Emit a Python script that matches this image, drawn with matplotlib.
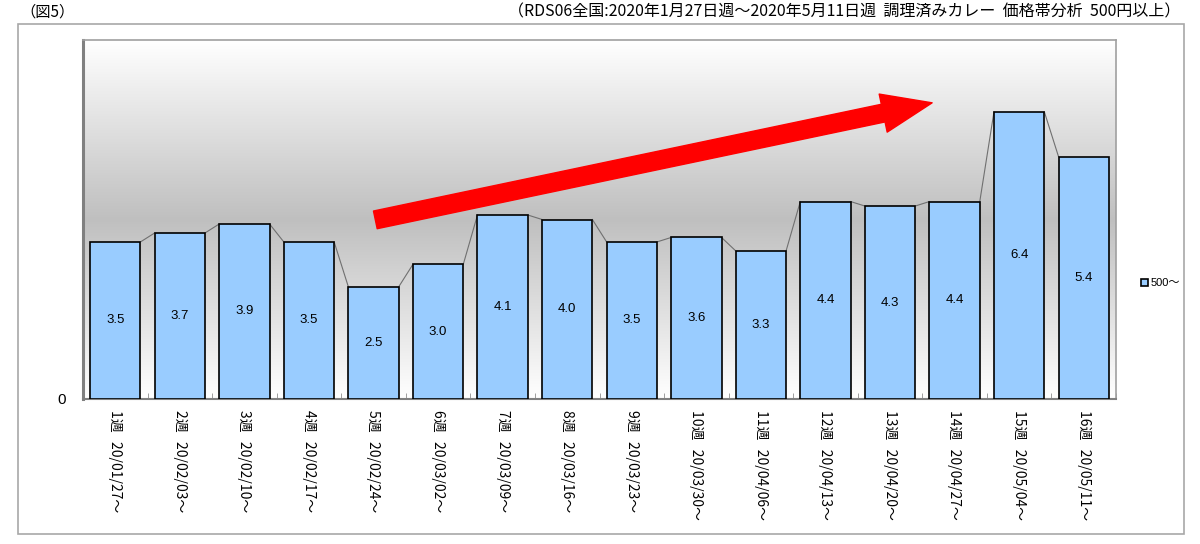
import matplotlib
matplotlib.use("Agg")
import matplotlib.pyplot as plt
from matplotlib.patches import Rectangle
import numpy as np

plt.rcParams['font.family'] = ['Noto Sans CJK JP', 'DejaVu Sans']

weeks = ["1週", "2週", "3週", "4週", "5週", "6週", "7週", "8週",
         "9週", "10週", "11週", "12週", "13週", "14週", "15週", "16週"]
dates = ["20/01/27～", "20/02/03～", "20/02/10～", "20/02/17～", "20/02/24～",
         "20/03/02～", "20/03/09～", "20/03/16～", "20/03/23～", "20/03/30～",
         "20/04/06～", "20/04/13～", "20/04/20～", "20/04/27～", "20/05/04～",
         "20/05/11～"]
values = [3.5, 3.7, 3.9, 3.5, 2.5, 3.0, 4.1, 4.0, 3.5, 3.6, 3.3, 4.4, 4.3, 4.4, 6.4, 5.4]
series_name = "500～"

fig = plt.figure(figsize=(12, 5.44), dpi=100)
ax = fig.add_axes([83/1200, 1-399/544, 1033/1200, 359/544])

# outer chart frame
fig.patches.append(Rectangle((18/1200, 1-534/544), 1166/1200, 510/544,
                             transform=fig.transFigure, fill=False,
                             edgecolor="#a8a8a8", lw=1.2))

# gradient background (white - gray - white)
t = np.linspace(0, 1, 256)
shade = 1 - (1 - np.abs(2*t - 1)) * (1 - 0.75)
grad = np.dstack([shade, shade, shade]).reshape(256, 1, 3)
ax.imshow(grad, extent=[0, 1, 0, 1], transform=ax.transAxes, aspect="auto",
          zorder=0, interpolation="bilinear")

x = np.arange(len(values))
w = 0.78
ax.bar(x, values, width=w, color="#99ccff", edgecolor="black", lw=1.2,
       zorder=3, label=series_name)

# series lines between bar tops
for i in range(len(values) - 1):
    ax.plot([x[i] + w/2, x[i+1] - w/2], [values[i], values[i+1]],
            color="#707070", lw=0.8, zorder=2)

for xi, v in zip(x, values):
    ax.text(xi, v/2, f"{v:.1f}", ha="center", va="center", fontsize=9.5,
            family="Liberation Sans", zorder=4)

ax.set_xlim(-0.5, len(values) - 0.5)
ax.set_ylim(0, 8)
ax.set_yticks([0])
ax.set_yticklabels(["0"], fontsize=11, family="Liberation Sans")
ax.tick_params(axis="y", length=0, pad=12)

ax.set_xticks(x)
ax.set_xticklabels([f"{a}   {b}" for a, b in zip(weeks, dates)],
                   rotation=-90, fontsize=10, va="top", ha="center")
ax.tick_params(axis="x", length=0, pad=8)
ax.set_xticks(np.arange(len(values) + 1) - 0.5, minor=True)
ax.tick_params(axis="x", which="minor", direction="in", length=4,
               color="#909090")

for s in ["top", "right"]:
    ax.spines[s].set_color("#a0a0a0")
    ax.spines[s].set_linewidth(1.2)
ax.spines["left"].set_color("#808080")
ax.spines["left"].set_linewidth(2.2)
ax.spines["bottom"].set_color("#808080")
ax.spines["bottom"].set_linewidth(1.5)

# trend arrow
ax.annotate("", xy=(0.822, 0.825), xytext=(0.283, 0.499),
            xycoords="axes fraction", textcoords="axes fraction",
            arrowprops=dict(arrowstyle="simple,head_length=36,head_width=28,tail_width=13",
                            mutation_scale=1, color="red", shrinkA=0, shrinkB=0),
            zorder=5)

ax.legend(loc="center left", bbox_to_anchor=(1.015, 0.323), frameon=False,
          handlelength=0.6, handleheight=0.6, handletextpad=0.2,
          prop={"family": ["Liberation Sans", "Noto Sans CJK JP"], "size": 8})

fig.text(20/1200, 1-12/544, "（図5）", fontsize=11, ha="left", va="center")
fig.text(1180/1200, 1-12/544,
         "（RDS06全国:2020年1月27日週～2020年5月11日週  調理済みカレー  価格帯分析  500円以上）",
         fontsize=11.5, ha="right", va="center")

fig.savefig("out.png", dpi=100)
